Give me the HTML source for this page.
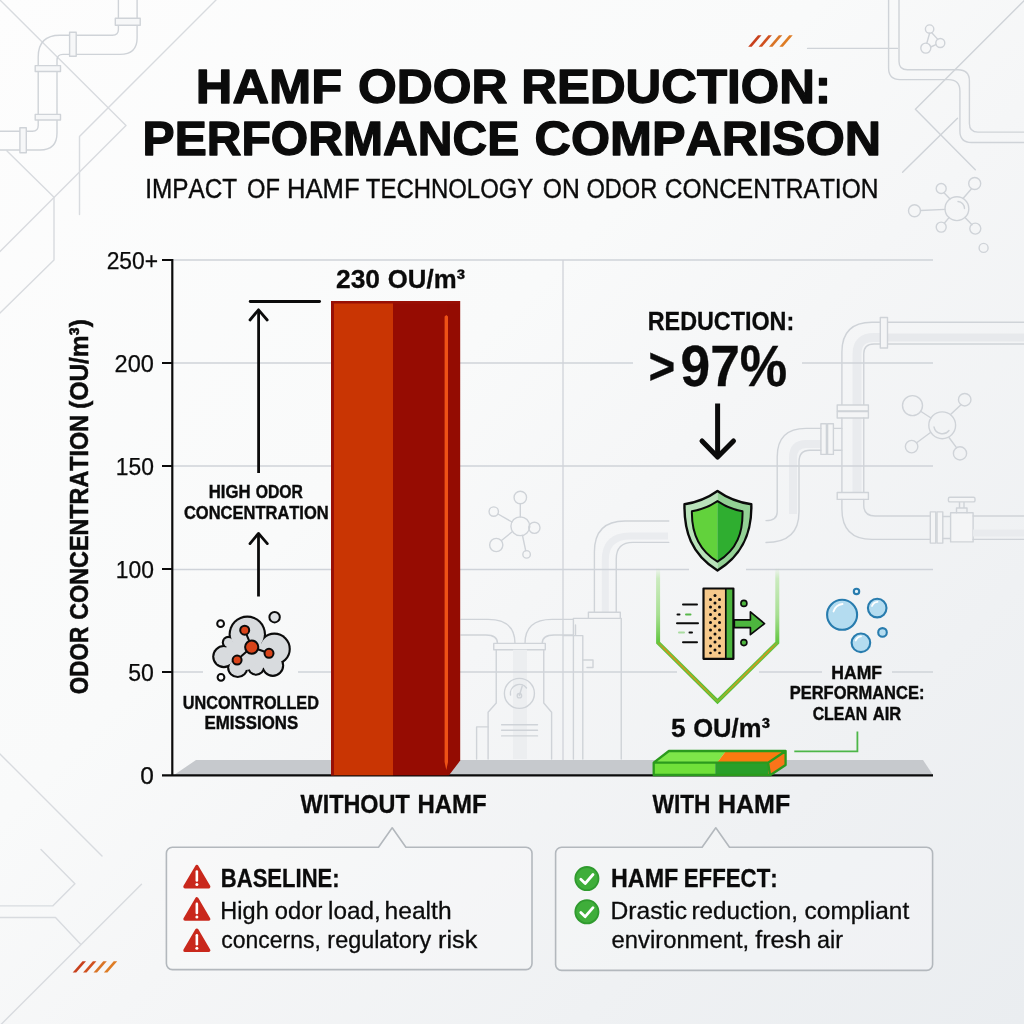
<!DOCTYPE html>
<html lang="en">
<head>
<meta charset="utf-8">
<title>HAMF Odor Reduction: Performance Comparison</title>
<style>
html,body{margin:0;padding:0;background:#f5f6f7;}
body{width:1024px;height:1024px;overflow:hidden;position:relative;font-family:"Liberation Sans",sans-serif;}
svg{position:absolute;left:0;top:0;display:block}
text{font-family:"Liberation Sans",sans-serif;fill:#0b0b0b;font-kerning:none;white-space:pre}
.b{font-weight:bold}
</style>
</head>
<body>
<svg width="1024" height="1024" viewBox="0 0 1024 1024">
<defs>
<linearGradient id="bg" x1="0" y1="0" x2="1024" y2="1024" gradientUnits="userSpaceOnUse">
<stop offset="0" stop-color="#fdfdfd"/>
<stop offset="0.4" stop-color="#f9fafa"/>
<stop offset="0.55" stop-color="#f5f6f7"/>
<stop offset="0.78" stop-color="#eff1f3"/>
<stop offset="1" stop-color="#eaedf0"/>
</linearGradient>
</defs>
<rect width="1024" height="1024" fill="url(#bg)"/>

<!-- BG-DECOR -->
<g id="bgdecor" fill="none" stroke="#cfd3d8" stroke-width="1.400" stroke-linecap="round" stroke-linejoin="round">
<!-- thin lines top-left -->
<g stroke="#d8dbdf">
<path d="M0 0L126 125.500L0 251.500"/>
<path d="M216 0L79.500 136.500V214.500"/>
<path d="M7 151L54 197.200V260L0 313"/>
</g>
<!-- top-left pipe -->
<path d="M118.400 0V18.300M137.100 0V18.300"/>
<path d="M137.100 25.300V38Q137.100 54.400 120 54.400H76.200M118.400 25.300V29.500Q118.400 35.200 112.500 35.200H76.200"/>
<path d="M69.600 35.200H60Q38.200 35.200 38.200 57V65.600M69.600 54.400H63Q57 54.400 57 60.500V65.600"/>
<path d="M38.200 71.500V114.400M57 71.500V114.400"/>
<path d="M57 120V133Q57 150 40 150H26.300M38.200 120V125.500Q38.200 131.300 32.500 131.300H26.300"/>
<path d="M19.900 131.300H0M19.900 150H0"/>
<g fill="#f6f7f8">
<rect x="115.300" y="18.300" width="24.900" height="7"/>
<rect x="69.600" y="32.300" width="6.600" height="23.900"/>
<rect x="35.200" y="65.600" width="25.300" height="5.900"/>
<rect x="35.200" y="114.400" width="25.300" height="5.600"/>
<rect x="19.900" y="127.700" width="6.400" height="25.100"/>
</g>
<!-- top-right -->
<path d="M807.600 48.400H897.500"/>
<path d="M888.600 0V68Q888.600 79.600 900 79.600H948.500Q959.900 79.600 959.900 91V131Q959.900 142.500 971.500 142.500H1024"/>
<path d="M899 0V61.500Q899 69.800 907.500 69.800H958Q969.400 69.800 969.400 81V123.500Q969.400 132.100 978 132.100H1024"/>
<path d="M1024 0.700L915.400 109.300L975.300 169.800"/>
<path d="M957.500 118.200L902.600 172.200"/>
<!-- small molecule top right -->
<path d="M929.600 33.300L926.800 43.200M931.800 32.700L937.800 39.400M930.700 47L935.900 44.600"/>
<circle cx="929.600" cy="29.100" r="4.200"/><circle cx="940.300" cy="43" r="4.500"/><circle cx="925.800" cy="48.100" r="5"/>
<!-- big molecule top right -->
<path d="M950 199L944 192.700M963 198.500L971.500 188.700M945 209.400L920.500 210.500M949 217.600L944.500 223M965 217.500L972 224.700"/>
<circle cx="956.900" cy="208.700" r="11.900"/>
<path d="M958 201.500A7 7 0 0 1 964.500 208.500"/>
<circle cx="941.200" cy="188.500" r="5"/><circle cx="974.700" cy="183.500" r="6"/><circle cx="914.500" cy="210.800" r="6"/>
<circle cx="941.200" cy="227.100" r="5"/><circle cx="975.300" cy="228.600" r="5.500"/><circle cx="983.600" cy="247.900" r="4.500"/>
<!-- bottom-left lines -->
<g stroke="#d8dbdf">
<path d="M0 754L102 856"/>
<path d="M41 849.600L74.900 883.700L52.700 905.900H0"/>
<path d="M0 917.500H55.500L80.400 943.900"/>
<path d="M141.500 884.200L0 1025.500"/>
</g>
</g>
<!-- orange slashes -->
<g id="slashes">
<path d="M748.2 46.8L758.0 35.3H761.5L751.7 46.8Z" fill="#c8401c"/>
<path d="M758.6 46.8L768.4 35.3H771.9L762.1 46.8Z" fill="#d0501e"/>
<path d="M769.0 46.8L778.8 35.3H782.3L772.5 46.8Z" fill="#d97426"/>
<path d="M779.4 46.8L789.2 35.3H792.7L782.9 46.8Z" fill="#de7c24"/>
<path d="M72.7 972.6L82.5 961.3H86.0L76.2 972.6Z" fill="#c8401c"/>
<path d="M83.1 972.6L92.9 961.3H96.4L86.6 972.6Z" fill="#d0501e"/>
<path d="M93.5 972.6L103.3 961.3H106.8L97.0 972.6Z" fill="#d97426"/>
<path d="M103.9 972.6L113.7 961.3H117.2L107.4 972.6Z" fill="#de7c24"/>
</g>

<!-- MID-DECOR -->
<g id="middecor" fill="none" stroke="#cfd3d8" stroke-width="1.400" stroke-linecap="round" stroke-linejoin="round">
<!-- molecule near bar -->
<path d="M520.300 517V503.700M512 522L498 514M529.700 527H528.800M512.500 531.500L501.500 540.500M522.500 535.500L525.700 550.700"/>
<circle cx="520.300" cy="526.250" r="9.400"/><circle cx="520.300" cy="497.500" r="6.250"/><circle cx="493.750" cy="511.600" r="4.700"/>
<circle cx="534.400" cy="527.800" r="5.600"/><circle cx="496.250" cy="545" r="6.600"/><circle cx="526.600" cy="554.400" r="3.750"/>
<!-- pipe into box -->
<path d="M668.750 543.400H632Q616.250 543.400 616.250 559V612.200" stroke="none" fill="none"/>
<path d="M668 536H630Q605.300 536 605.300 560V612.200" stroke="#eaecef" stroke-width="7" stroke-linecap="butt"/>
<path d="M668.750 521H625Q594.400 521 594.400 552V612.200M668.750 542.400H633Q616.250 542.400 616.250 559V612.200"/>
<rect x="588.400" y="612.200" width="31.900" height="6.200" fill="#f4f5f6"/>
<path d="M573.400 759V618.400H588.400M621.250 618.400V759"/>
<path d="M563 635.600H582.800V759M575.500 635.600V625"/>
<path d="M582.800 660H593V667.500H587"/>
<!-- tank -->
<path d="M461 619.400H488Q515 619.400 515 643.400M461 635H486Q497.500 635 497.500 643.400"/>
<path d="M573.400 619.400H552Q525 619.400 525 643.400M573.400 635H554Q542.200 635 542.200 643.400"/>
<rect x="493.750" y="643.400" width="51.550" height="6.300" fill="#f4f5f6"/>
<path d="M496.250 649.700V703L488.100 712.200V759M543.750 649.700V703L551.600 712.200V759"/>
<path d="M520 649.700V759" stroke="#eceef0" stroke-width="14" stroke-linecap="butt"/>
<circle cx="519.400" cy="693.400" r="15"/>
<path d="M510.500 695A9 9 0 0 1 526.500 688M519.400 695.500L522.500 685"/>
<circle cx="519.400" cy="695.700" r="2.200"/>
<path d="M501.600 724.700H537.500M501.600 730.300H537.500M501.600 735.900H537.500"/>
<path d="M476.600 759V726.900H488.100"/>
</g>
<!-- RIGHT-DECOR -->
<g id="rightdecor" fill="none" stroke="#cfd3d8" stroke-width="1.400" stroke-linecap="round" stroke-linejoin="round">
<!-- shading bands -->
<path d="M1024 337.500H887.500" stroke="#e7e9ec" stroke-width="8" stroke-linecap="butt"/>
<path d="M880.300 337.500H874Q857 337.500 857 354V405" stroke="#e9ebee" stroke-width="9" stroke-linecap="butt"/>
<path d="M857 418V492.500" stroke="#e9ebee" stroke-width="9" stroke-linecap="butt"/>
<path d="M820.900 444H806Q793 444 793 458V514" stroke="#e9ebee" stroke-width="8" stroke-linecap="butt"/>
<!-- top horizontal pipe -->
<path d="M887.500 322.200H1024M887.500 344H1024"/>
<rect x="880.300" y="317.500" width="7.200" height="30.500" fill="#f4f5f6"/>
<path d="M880.300 322.200H872Q841.900 322.200 841.900 352V405M880.300 344H874Q863.750 344 863.750 354V405"/>
<rect x="837.200" y="405" width="31.200" height="6" fill="#f4f5f6"/>
<rect x="837.200" y="411.500" width="31.200" height="6.500" fill="#f4f5f6"/>
<path d="M841.900 418V492.500M863.750 418V492.500"/>
<rect x="837.200" y="492.500" width="31.200" height="6.900" fill="#f4f5f6"/>
<path d="M841.900 499.400V509Q841.900 539.400 872 539.400H930.300M863.750 499.400V505Q863.750 516 875 516H930.300"/>
<rect x="930.300" y="511.900" width="5.500" height="31.200" fill="#f4f5f6"/>
<rect x="937" y="511.900" width="5.800" height="31.200" fill="#f4f5f6"/>
<path d="M942.800 516.500H950.600M942.800 538.500H950.600"/>
<rect x="950.600" y="512.800" width="22.500" height="29.100" fill="#f4f5f6"/>
<path d="M956.500 512.800V508H967V512.800M959.500 508V501.900M964 508V501.900"/>
<rect x="948.400" y="497.200" width="26.600" height="4.700" rx="1.500" fill="#f4f5f6"/>
<path d="M973.100 516H1024M973.100 539.400H1024"/>
<path d="M973.100 533H1024" stroke="#e9ebee" stroke-width="7" stroke-linecap="butt"/>
<!-- side branch -->
<path d="M833.400 428.400H841.900M833.400 450.300H841.900"/>
<rect x="820.900" y="423.750" width="5.500" height="30.650" fill="#f4f5f6"/>
<rect x="827.600" y="423.750" width="5.800" height="30.650" fill="#f4f5f6"/>
<path d="M820.900 428.400H806Q777.200 428.400 777.200 457V512Q777.200 520.600 766 520.600" />
<path d="M820.900 450.300H810Q799 450.300 799 462V512Q799 542.500 766 542.500"/>
<!-- molecule -->
<path d="M931 418L921 411.500M950.500 414.500L961 404.700M930.500 432.500L917 442.500M949 437.500L956.500 447.700"/>
<circle cx="942.200" cy="425.300" r="13.400"/>
<path d="M934 427A8.500 8.500 0 0 0 949 430.500"/>
<circle cx="912.500" cy="405.600" r="10"/><circle cx="964.700" cy="399.700" r="6.250"/><circle cx="911.600" cy="446.600" r="6.250"/><circle cx="960" cy="453.400" r="6.600"/>
</g>

<!-- GRID -->
<g id="grid" stroke="#cfd3d9" stroke-width="1.3" fill="none">
<path d="M173 260H933"/>
<path d="M173 363H633M802 363H933"/>
<path d="M173 466H933"/>
<path d="M173 569.5H689M746 569.5H933"/>
<path d="M173 672H203M298 672H677M759 672H822M892 672H933"/>
<path d="M563 260V760"/>
</g>

<!-- FLOOR -->
<path d="M196 760H923L933 775H174Z" fill="#c6c9cd"/>

<!-- AXES -->
<g stroke="#0b0b0b" stroke-width="2.2" fill="none">
<path d="M172.300 259V775"/>
<path d="M162 775.3H933"/>
<path d="M162 260H172.300M162 363H172.300M162 466H172.300M162 569H172.300M162 672H172.300" stroke-width="2"/>
</g>

<!-- TITLE -->

<!-- AXIS LABELS -->

<!-- LEFT-BAR -->
<g id="leftbar">
<rect x="331" y="301" width="62" height="474.3" fill="#c93503"/>
<rect x="393" y="301" width="54" height="474.3" fill="#960c02"/>
<path d="M447 301H460.2V760.6L449 775.3H447Z" fill="#940c02"/>
<path d="M331 301H460V303.5H334V775.3H331Z" fill="#981006"/>
<path d="M444.6 316.5L446.3 315L448 316.5V762L446.3 770L444.6 762Z" fill="#ee5216"/>
<path d="M447.6 775.3L460 762V740L447.6 748Z" fill="#b8260c" opacity="0.0"/>
</g>

<!-- LEFT-ANNOT -->
<g stroke="#0b0b0b" stroke-width="2.800" fill="none" stroke-linecap="round" stroke-linejoin="round">
<path d="M250.200 301.500H319.600"/>
<path d="M258.600 473V310.500" stroke-linecap="butt"/>
<path d="M250 320L258.500 309.800L267.200 320"/>
<path d="M258.500 596.500V534" stroke-linecap="butt"/>
<path d="M250 543.600L258.500 533.400L267.300 543.600"/>
</g>
<g id="cloud">
<g fill="#0b0b0b"><circle cx="247.3" cy="634.3" r="18.7"/><circle cx="274.4" cy="649" r="16.4"/><circle cx="223.8" cy="656.6" r="11.6"/><circle cx="228.5" cy="642.5" r="6.7"/><circle cx="237.7" cy="667.5" r="10.6"/><circle cx="256.1" cy="666.6" r="9.2"/><circle cx="272.8" cy="665.5" r="11.4"/><circle cx="250" cy="652" r="16.2"/></g>
<g fill="#d8dbde"><circle cx="247.3" cy="634.3" r="16.6"/><circle cx="274.4" cy="649" r="14.3"/><circle cx="223.8" cy="656.6" r="9.5"/><circle cx="228.5" cy="642.5" r="4.6"/><circle cx="237.7" cy="667.5" r="8.5"/><circle cx="256.1" cy="666.6" r="7.1"/><circle cx="272.8" cy="665.5" r="9.3"/><circle cx="250" cy="652" r="14.1"/><circle cx="234" cy="650" r="8"/><circle cx="262" cy="660" r="8"/><circle cx="246" cy="662" r="8"/></g>
<g stroke="#0b0b0b" stroke-width="2" fill="#d9441a">
<path d="M251.700 647L244.700 630.200M251.700 647L269 653.300M251.700 647L237 660" fill="none"/>
<circle cx="251.700" cy="647.100" r="6.600"/>
<circle cx="244.700" cy="630.200" r="4.500"/>
<circle cx="269" cy="653.300" r="4.500"/>
<circle cx="237.100" cy="660.100" r="4.500"/>
</g>
<circle cx="220.600" cy="623.700" r="3.400" fill="#fff" stroke="#0b0b0b" stroke-width="2"/>
<circle cx="274.600" cy="617.200" r="5.200" fill="#dcdfe2" stroke="#0b0b0b" stroke-width="2"/>
<circle cx="221" cy="677.300" r="3.400" fill="#fff" stroke="#0b0b0b" stroke-width="2"/>
</g>

<!-- RIGHT-CHART -->
<defs>
<linearGradient id="pv" x1="0" y1="568" x2="0" y2="702" gradientUnits="userSpaceOnUse">
<stop offset="0" stop-color="#9adf7c" stop-opacity="0"/>
<stop offset="0.08" stop-color="#9adf7c" stop-opacity="0.45"/>
<stop offset="0.35" stop-color="#86d666" stop-opacity="0.7"/>
<stop offset="0.55" stop-color="#62c640" stop-opacity="1"/>
<stop offset="1" stop-color="#4fc034"/>
</linearGradient>
<linearGradient id="pv2" x1="0" y1="640" x2="0" y2="702" gradientUnits="userSpaceOnUse">
<stop offset="0" stop-color="#d8921c" stop-opacity="0"/>
<stop offset="0.15" stop-color="#d8921c" stop-opacity="1"/>
<stop offset="0.8" stop-color="#c9a020" stop-opacity="0.9"/>
<stop offset="1" stop-color="#a8b830" stop-opacity="0.5"/>
</linearGradient>
</defs>
<g stroke="#0b0b0b" stroke-width="5" fill="none" stroke-linecap="round" stroke-linejoin="round">
<path d="M717.6 403.500V455" stroke-linecap="butt"/>
<path d="M702 441L717.600 457L733.500 441"/>
</g>
<!-- pentagon pointer -->
<path d="M658.1 568V642.6L717.5 701.5L777.3 642.6V568" fill="none" stroke="url(#pv)" stroke-width="4" stroke-linejoin="miter"/>
<path d="M658.1 642.6L717.5 701.5L777.3 642.6" fill="none" stroke="url(#pv2)" stroke-width="1.7"/>
<!-- shield -->
<g id="shield" stroke-linejoin="round">
<path d="M717.5 491C707 498.500 696 502.500 684.500 504.300C684 531 691 554 717.500 570.500Z" fill="#b9e2ba"/>
<path d="M717.5 491C728 498.500 739 502.500 751.300 504.300C752 531 744 554 717.500 570.500Z" fill="#93d195"/>
<path d="M717.5 491C707 498.500 696 502.500 684.500 504.300C684 531 691 554 717.500 570.500C744 554 752 531 751.300 504.300C739 502.500 728 498.500 717.500 491Z" fill="none" stroke="#0b0b0b" stroke-width="2.4"/>
<path d="M717.5 501.100C709.500 506.500 701 509.800 691.900 511.300C691.500 532 697.500 549.500 717.500 561.700Z" fill="#62d23c"/>
<path d="M717.5 501.100C725.500 506.500 734 509.800 742.500 511.300C743 532 737.500 549.500 717.500 561.700Z" fill="#2fae30"/>
<path d="M717.5 501.100C709.500 506.500 701 509.800 691.900 511.300C691.500 532 697.500 549.500 717.500 561.700C737.500 549.500 743 532 742.500 511.300C734 509.800 725.500 506.500 717.500 501.100Z" fill="none" stroke="#0b0b0b" stroke-width="2"/>
</g>
<!-- filter icon -->
<g id="filter">
<rect x="703.500" y="588.500" width="29.900" height="70.300" fill="#f6c98b"/>
<rect x="725.800" y="588.500" width="7.600" height="70.300" fill="#4db63e"/>
<path d="M725.800 588.500V658.800" stroke="#0b0b0b" stroke-width="1.700"/>
<rect x="703.500" y="588.500" width="29.900" height="70.300" fill="none" stroke="#0b0b0b" stroke-width="2.200" stroke-linejoin="round"/>
<g fill="#0b0b0b">
<circle cx="715" cy="595.500" r="1.500"/><circle cx="710.500" cy="599.500" r="1.500"/><circle cx="719.500" cy="599.500" r="1.500"/>
<circle cx="715" cy="603" r="1.500"/><circle cx="710.500" cy="607" r="1.500"/><circle cx="719.500" cy="607" r="1.500"/>
<circle cx="715" cy="610.500" r="1.500"/><circle cx="710.500" cy="614.500" r="1.500"/><circle cx="719.500" cy="614.500" r="1.500"/>
<circle cx="715" cy="618.500" r="1.500"/><circle cx="710.500" cy="622.500" r="1.500"/><circle cx="719.500" cy="622.500" r="1.500"/>
<circle cx="715" cy="626" r="1.500"/><circle cx="710.500" cy="630" r="1.500"/><circle cx="719.500" cy="630" r="1.500"/>
<circle cx="715" cy="634" r="1.500"/><circle cx="710.500" cy="638" r="1.500"/><circle cx="719.500" cy="638" r="1.500"/>
<circle cx="715" cy="642" r="1.500"/><circle cx="710.500" cy="646" r="1.500"/><circle cx="719.500" cy="646" r="1.500"/>
<circle cx="715" cy="650" r="1.500"/><circle cx="710.500" cy="653" r="1.300"/><circle cx="719.500" cy="653" r="1.300"/>
</g>
<path d="M734.300 619.800H750.400V611.900L764.500 623.600L750.400 634.700V627.700H734.300Z" fill="#4db63e" stroke="#0b0b0b" stroke-width="1.700" stroke-linejoin="round"/>
<circle cx="743.900" cy="603.400" r="3" fill="#4db63e" stroke="#0b0b0b" stroke-width="1.600"/>
<circle cx="743.900" cy="642.600" r="3" fill="#4db63e" stroke="#0b0b0b" stroke-width="1.600"/>
<g stroke="#0b0b0b" stroke-width="2" stroke-linecap="round" fill="none">
<path d="M683 604.500H697"/>
<path d="M677.500 614.500H679.500"/>
<path d="M677 623.300H698"/>
<path d="M689.500 632.600H692"/>
<path d="M683 642.300H697"/>
<path d="M686 614.500H690.500" stroke="#58b84a"/>
<path d="M679 632.600H684" stroke="#a9dca0"/>
</g>
</g>
<!-- small green bar -->
<g id="gbar" stroke-linejoin="round">
<path d="M653.700 762.700L668.900 751H726L717 762.700Z" fill="#7ee649"/>
<path d="M726 751H785.600L768.100 762.700H717Z" fill="#fb7a10"/>
<path d="M768.100 762.700L785.600 751V765L770.500 775H768.100Z" fill="#f9741a"/>
<rect x="653.700" y="762.700" width="61.600" height="12.300" fill="#70e03a"/>
<rect x="715.300" y="762.700" width="52.800" height="12.300" fill="#2a9f2a"/>
<path d="M653.700 762.700L668.900 751H785.600V765L770.500 775H653.700ZM653.700 762.700H768.100L785.600 751M768.100 762.700L770 775" fill="none" stroke="#2b9a1d" stroke-width="2.300"/>
</g>
<path d="M794.300 751.400H857.400V731.500" fill="none" stroke="#4cb648" stroke-width="1.800"/>
<!-- bubbles -->
<g id="bubbles" fill="#b4dcf0" stroke="#287cae" stroke-width="2.100">
<circle cx="842.100" cy="614.800" r="15"/>
<circle cx="877.200" cy="608.100" r="9.300"/>
<circle cx="860.900" cy="642.800" r="9.300"/>
<circle cx="882.500" cy="632.400" r="4.300"/>
<circle cx="856.500" cy="591.400" r="2.700" fill="#e4f3fa"/>
</g>
<g fill="none" stroke="#ffffff" stroke-width="1.800" stroke-linecap="round">
<path d="M833.500 611.500C835 607 838.500 604.500 842.500 604"/>
<path d="M872 606C873 603.500 875 602 877.500 601.800"/>
<path d="M855.700 640.500C856.700 638 858.700 636.500 861 636.300"/>
</g>

<!-- CALLOUTS -->
<g fill="#ffffff" fill-opacity="0.22" stroke="#b3b8bd" stroke-width="1.600" stroke-linejoin="round">
<path d="M172.400 847.300H378.500L392.200 827.800L405.900 847.300H526A6 6 0 0 1 532 853.300V963.600A6 6 0 0 1 526 969.600H172.400A6 6 0 0 1 166.400 963.600V853.300A6 6 0 0 1 172.400 847.300Z"/>
<path d="M561.600 847.300H702.100L715.800 827.800L729.500 847.300H926.600A6 6 0 0 1 932.600 853.300V964.400A6 6 0 0 1 926.600 970.400H561.600A6 6 0 0 1 555.600 964.400V853.300A6 6 0 0 1 561.600 847.300Z"/>
</g>
<g id="warn">
<g id="w1">
<path d="M196.850 866.500L208.700 886.700H185L196.850 866.500Z" fill="#c9281c" stroke="#c9281c" stroke-width="3.400" stroke-linejoin="round"/>
<path d="M196.850 871.500V880.500" stroke="#fff" stroke-width="2.600" stroke-linecap="round"/>
<circle cx="196.850" cy="884.600" r="1.500" fill="#fff"/>
</g>
<g transform="translate(0 32.400)">
<path d="M196.850 866.500L208.700 886.700H185L196.850 866.500Z" fill="#c9281c" stroke="#c9281c" stroke-width="3.400" stroke-linejoin="round"/>
<path d="M196.850 871.500V880.500" stroke="#fff" stroke-width="2.600" stroke-linecap="round"/>
<circle cx="196.850" cy="884.600" r="1.500" fill="#fff"/>
</g>
<g transform="translate(0 63.700)">
<path d="M196.850 866.500L208.700 886.700H185L196.850 866.500Z" fill="#c9281c" stroke="#c9281c" stroke-width="3.400" stroke-linejoin="round"/>
<path d="M196.850 871.500V880.500" stroke="#fff" stroke-width="2.600" stroke-linecap="round"/>
<circle cx="196.850" cy="884.600" r="1.500" fill="#fff"/>
</g>
</g>
<g id="checks">
<circle cx="586.900" cy="878.600" r="11.600" fill="#3fae3a" stroke="#2f9a2e" stroke-width="1.800"/>
<path d="M580.800 879.200L585.200 883.500L593 874.500" fill="none" stroke="#fff" stroke-width="2.800" stroke-linecap="round" stroke-linejoin="round"/>
<circle cx="586.900" cy="911.800" r="11.600" fill="#3fae3a" stroke="#2f9a2e" stroke-width="1.800"/>
<path d="M580.800 912.400L585.200 916.700L593 907.700" fill="none" stroke="#fff" stroke-width="2.800" stroke-linecap="round" stroke-linejoin="round"/>
</g>

<!-- TEXT-START -->
<g id="title">
<text class="b" x="195.86" y="103.2" font-size="47.6" textLength="146.35" lengthAdjust="spacingAndGlyphs" stroke="#0b0b0b" stroke-width="1.3" stroke-linejoin="round">HAMF</text>
<text class="b" x="357.91" y="103.2" font-size="47.6" textLength="149.47" lengthAdjust="spacingAndGlyphs" stroke="#0b0b0b" stroke-width="1.3" stroke-linejoin="round">ODOR</text>
<text class="b" x="521.35" y="103.2" font-size="47.6" textLength="309.95" lengthAdjust="spacingAndGlyphs" stroke="#0b0b0b" stroke-width="1.3" stroke-linejoin="round">REDUCTION:</text>
<text class="b" x="142.63" y="154.5" font-size="47.6" textLength="376.59" lengthAdjust="spacingAndGlyphs" stroke="#0b0b0b" stroke-width="1.3" stroke-linejoin="round">PERFORMANCE</text>
<text class="b" x="534.59" y="154.5" font-size="47.6" textLength="346.55" lengthAdjust="spacingAndGlyphs" stroke="#0b0b0b" stroke-width="1.3" stroke-linejoin="round">COMPARISON</text>
</g>
<g id="subtitle">
<text x="145.35" y="198.1" font-size="27" textLength="91.9" lengthAdjust="spacingAndGlyphs" stroke="#0b0b0b" stroke-width="0.4">IMPACT</text>
<text x="246.98" y="198.1" font-size="27" textLength="32.87" lengthAdjust="spacingAndGlyphs" stroke="#0b0b0b" stroke-width="0.4">OF</text>
<text x="287" y="198.1" font-size="27" textLength="72.63" lengthAdjust="spacingAndGlyphs" stroke="#0b0b0b" stroke-width="0.4">HAMF</text>
<text x="365.86" y="198.1" font-size="27" textLength="167.46" lengthAdjust="spacingAndGlyphs" stroke="#0b0b0b" stroke-width="0.4">TECHNOLOGY</text>
<text x="542.73" y="198.1" font-size="27" textLength="36.98" lengthAdjust="spacingAndGlyphs" stroke="#0b0b0b" stroke-width="0.4">ON</text>
<text x="586.38" y="198.1" font-size="27" textLength="70.92" lengthAdjust="spacingAndGlyphs" stroke="#0b0b0b" stroke-width="0.4">ODOR</text>
<text x="664.76" y="198.1" font-size="27" textLength="213.64" lengthAdjust="spacingAndGlyphs" stroke="#0b0b0b" stroke-width="0.4">CONCENTRATION</text>
</g>
<g id="ticks">
<text x="106.65" y="268.6" font-size="23.5" textLength="51.48" lengthAdjust="spacingAndGlyphs" stroke="#0b0b0b" stroke-width="0.25">250+</text>
<text x="114.62" y="371.6" font-size="23.5" textLength="39.31" lengthAdjust="spacingAndGlyphs" stroke="#0b0b0b" stroke-width="0.25">200</text>
<text x="115.76" y="474.6" font-size="23.5" textLength="38.13" lengthAdjust="spacingAndGlyphs" stroke="#0b0b0b" stroke-width="0.25">150</text>
<text x="115.76" y="577.6" font-size="23.5" textLength="38.13" lengthAdjust="spacingAndGlyphs" stroke="#0b0b0b" stroke-width="0.25">100</text>
<text x="128.28" y="680.6" font-size="23.5" textLength="25.62" lengthAdjust="spacingAndGlyphs" stroke="#0b0b0b" stroke-width="0.25">50</text>
<text x="140.34" y="783.6" font-size="23.5" textLength="13.61" lengthAdjust="spacingAndGlyphs" stroke="#0b0b0b" stroke-width="0.25">0</text>
</g>
<g id="ylabel">
<text class="b" font-size="26" transform="translate(88.4 694.33) rotate(-90)" textLength="67.69" lengthAdjust="spacingAndGlyphs" stroke="#0b0b0b" stroke-width="0.5">ODOR</text>
<text class="b" font-size="26" transform="translate(88.4 619.86) rotate(-90)" textLength="204.93" lengthAdjust="spacingAndGlyphs" stroke="#0b0b0b" stroke-width="0.5">CONCENTRATION</text>
<text class="b" font-size="26" transform="translate(88.4 408.72) rotate(-90)" textLength="89.53" lengthAdjust="spacingAndGlyphs" stroke="#0b0b0b" stroke-width="0.5">(OU/m³)</text>
</g>
<g id="chartlabels">
<text class="b" x="335.98" y="288.2" font-size="26.2" textLength="44.1" lengthAdjust="spacingAndGlyphs" stroke="#0b0b0b" stroke-width="0.3">230</text>
<text class="b" x="387.84" y="288.2" font-size="26.2" textLength="77.31" lengthAdjust="spacingAndGlyphs" stroke="#0b0b0b" stroke-width="0.3">OU/m³</text>
<text class="b" x="300.58" y="812.7" font-size="25.8" textLength="109.17" lengthAdjust="spacingAndGlyphs" stroke="#0b0b0b" stroke-width="0.3">WITHOUT</text>
<text class="b" x="417.4" y="812.7" font-size="25.8" textLength="69.28" lengthAdjust="spacingAndGlyphs" stroke="#0b0b0b" stroke-width="0.3">HAMF</text>
<text class="b" x="652.48" y="812.8" font-size="25.8" textLength="58.05" lengthAdjust="spacingAndGlyphs" stroke="#0b0b0b" stroke-width="0.3">WITH</text>
<text class="b" x="717.93" y="812.8" font-size="25.8" textLength="72.29" lengthAdjust="spacingAndGlyphs" stroke="#0b0b0b" stroke-width="0.3">HAMF</text>
<text class="b" x="208.78" y="498.3" font-size="18.8" textLength="41.85" lengthAdjust="spacingAndGlyphs" stroke="#0b0b0b" stroke-width="0.4">HIGH</text>
<text class="b" x="255.76" y="498.3" font-size="18.8" textLength="47.17" lengthAdjust="spacingAndGlyphs" stroke="#0b0b0b" stroke-width="0.4">ODOR</text>
<text class="b" x="183.92" y="518.6" font-size="18.8" textLength="144.79" lengthAdjust="spacingAndGlyphs" stroke="#0b0b0b" stroke-width="0.4">CONCENTRATION</text>
<text class="b" x="182.83" y="708.7" font-size="18.8" textLength="136.06" lengthAdjust="spacingAndGlyphs" stroke="#0b0b0b" stroke-width="0.4">UNCONTROLLED</text>
<text class="b" x="204.57" y="728.8" font-size="18.8" textLength="93.58" lengthAdjust="spacingAndGlyphs" stroke="#0b0b0b" stroke-width="0.4">EMISSIONS</text>
<text class="b" x="647.74" y="330.1" font-size="26.2" textLength="146.51" lengthAdjust="spacingAndGlyphs" stroke="#0b0b0b" stroke-width="0.3">REDUCTION:</text>
<text class="b" x="648.47" y="384" font-size="51" textLength="26.78" lengthAdjust="spacingAndGlyphs" stroke="#0b0b0b" stroke-width="0.3">&gt;</text>
<text class="b" x="680.55" y="386" font-size="57" textLength="106.76" lengthAdjust="spacingAndGlyphs" stroke="#0b0b0b" stroke-width="0.3">97%</text>
<text class="b" x="671.09" y="737.2" font-size="26.6" textLength="14.64" lengthAdjust="spacingAndGlyphs" stroke="#0b0b0b" stroke-width="0.3">5</text>
<text class="b" x="693.15" y="737.2" font-size="26.6" textLength="76.8" lengthAdjust="spacingAndGlyphs" stroke="#0b0b0b" stroke-width="0.3">OU/m³</text>
<text class="b" x="831.33" y="679.4" font-size="18.8" textLength="50.72" lengthAdjust="spacingAndGlyphs" stroke="#0b0b0b" stroke-width="0.4">HAMF</text>
<text class="b" x="789.7" y="699.3" font-size="18.8" textLength="134.69" lengthAdjust="spacingAndGlyphs" stroke="#0b0b0b" stroke-width="0.4">PERFORMANCE:</text>
<text class="b" x="812.65" y="719.6" font-size="18.8" textLength="54.62" lengthAdjust="spacingAndGlyphs" stroke="#0b0b0b" stroke-width="0.4">CLEAN</text>
<text class="b" x="872.79" y="719.6" font-size="18.8" textLength="28.45" lengthAdjust="spacingAndGlyphs" stroke="#0b0b0b" stroke-width="0.4">AIR</text>
</g>
<g id="callouttext">
<text class="b" x="220.83" y="887" font-size="25.3" textLength="118.79" lengthAdjust="spacingAndGlyphs" stroke="#0b0b0b" stroke-width="0.3">BASELINE:</text>
<text x="220.37" y="918.7" font-size="24.2" textLength="48.36" lengthAdjust="spacingAndGlyphs" stroke="#0b0b0b" stroke-width="0.3">High</text>
<text x="274.8" y="918.7" font-size="24.2" textLength="47.49" lengthAdjust="spacingAndGlyphs" stroke="#0b0b0b" stroke-width="0.3">odor</text>
<text x="328.07" y="918.7" font-size="24.2" textLength="52.61" lengthAdjust="spacingAndGlyphs" stroke="#0b0b0b" stroke-width="0.3">load,</text>
<text x="384.59" y="918.7" font-size="24.2" textLength="67" lengthAdjust="spacingAndGlyphs" stroke="#0b0b0b" stroke-width="0.3">health</text>
<text x="221.33" y="948.2" font-size="24.2" textLength="99.49" lengthAdjust="spacingAndGlyphs" stroke="#0b0b0b" stroke-width="0.3">concerns,</text>
<text x="327.35" y="948.2" font-size="24.2" textLength="103.95" lengthAdjust="spacingAndGlyphs" stroke="#0b0b0b" stroke-width="0.3">regulatory</text>
<text x="438.13" y="948.2" font-size="24.2" textLength="39.13" lengthAdjust="spacingAndGlyphs" stroke="#0b0b0b" stroke-width="0.3">risk</text>
<text class="b" x="611.04" y="887" font-size="25.3" textLength="67.31" lengthAdjust="spacingAndGlyphs" stroke="#0b0b0b" stroke-width="0.3">HAMF</text>
<text class="b" x="683.81" y="887" font-size="25.3" textLength="93.82" lengthAdjust="spacingAndGlyphs" stroke="#0b0b0b" stroke-width="0.3">EFFECT:</text>
<text x="610.58" y="918.7" font-size="24.2" textLength="76.57" lengthAdjust="spacingAndGlyphs" stroke="#0b0b0b" stroke-width="0.3">Drastic</text>
<text x="691.49" y="918.7" font-size="24.2" textLength="106.59" lengthAdjust="spacingAndGlyphs" stroke="#0b0b0b" stroke-width="0.3">reduction,</text>
<text x="804.56" y="918.7" font-size="24.2" textLength="104.72" lengthAdjust="spacingAndGlyphs" stroke="#0b0b0b" stroke-width="0.3">compliant</text>
<text x="611.59" y="948.2" font-size="24.2" textLength="137.55" lengthAdjust="spacingAndGlyphs" stroke="#0b0b0b" stroke-width="0.3">environment,</text>
<text x="755.24" y="948.2" font-size="24.2" textLength="55.89" lengthAdjust="spacingAndGlyphs" stroke="#0b0b0b" stroke-width="0.3">fresh</text>
<text x="817.11" y="948.2" font-size="24.2" textLength="25.98" lengthAdjust="spacingAndGlyphs" stroke="#0b0b0b" stroke-width="0.3">air</text>
</g>
<!-- TEXT-END -->
</svg>
</body>
</html>
